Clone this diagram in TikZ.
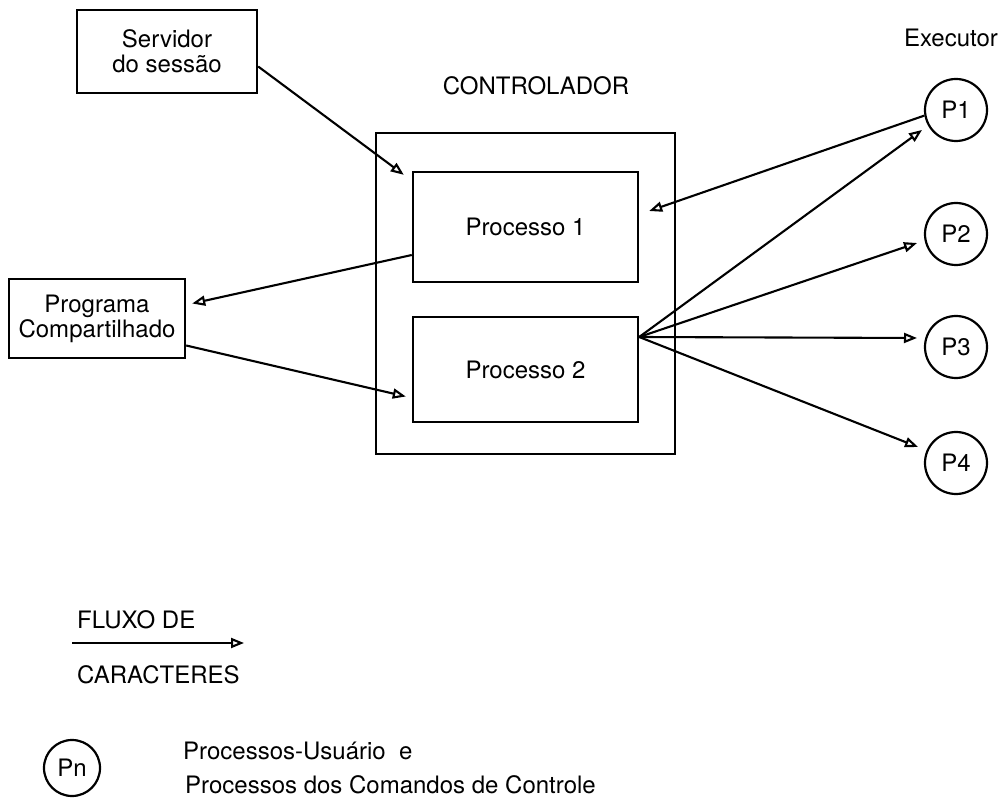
\documentclass[tikz,border=0pt]{standalone}
\usepackage{fontspec}
\setmainfont{TeX Gyre Heros}
\usetikzlibrary{arrows.meta,calc}

\begin{document}
\begin{tikzpicture}[x=1pt,y=-1pt,
  every node/.style={font=\fontsize{24}{25}\selectfont, inner sep=0pt},
  box/.style={draw, line width=2.4pt, rectangle, align=center},
  proc/.style={draw, line width=2.2pt, circle, minimum size=62pt},
  flow/.style={line width=2.1pt, -{Triangle[open, length=13pt, width=10pt]}},
  label/.style={anchor=center}
]
\useasboundingbox (0,0) rectangle (1005,810);

% sources on the left
\node[box, minimum width=180pt, minimum height=83pt] (serv) at (167,51.5)
  {Servidor\\do sessão};
\node[box, minimum width=176pt, minimum height=79pt] (prog) at (97,318.5)
  {Programa\\Compartilhado};

% controller with its two processes
\node[label] (ctrltitle) at (536,86) {CONTROLADOR};
\node[box, minimum width=299pt, minimum height=321pt] (ctrl) at (525.5,293.5) {};
\node[box, minimum width=225pt, minimum height=110pt] (proc1) at (525.5,227) {Processo 1};
\node[box, minimum width=225pt, minimum height=105pt] (proc2) at (525.5,369.5) {Processo 2};

% executor processes
\node[label] (exec) at (951,38) {Executor};
\node[proc] (p1) at (956,110) {P1};
\node[proc] (p2) at (956,234) {P2};
\node[proc] (p3) at (956,347) {P3};
\node[proc] (p4) at (956,463) {P4};

% character flows
\draw[flow] ($(serv.east)+(0,15)$) -- ($(proc1.north west)+(-8,4)$);
\draw[flow] (p1.190) -- ($(proc1.east)+(10,-16)$);
\draw[flow] ($(proc1.west)+(0,28)$) -- ($(prog.east)+(6,-15)$);
\draw[flow] ($(prog.east)+(0,27)$) -- ($(proc2.west)+(-6,27)$);

\coordinate (fan) at ($(proc2.east)+(0,-32.5)$);
\draw[flow] (fan) -- ($(p1)+(-34,20)$);
\draw[flow] (fan) -- ($(p2)+(-39,9)$);
\draw[flow] (fan) -- ($(p3)+(-39,-9)$);
\draw[flow] (fan) -- ($(p4)+(-38,-16)$);

% legend
\node[anchor=west] (lflux) at (77,620) {FLUXO DE};
\coordinate (la) at (72,643);
\coordinate (lb) at (244,643);
\draw[flow] (la) -- (lb);
\node[anchor=west] (lcar) at (77,675) {CARACTERES};

\node[proc, minimum size=56pt] (pn) at (72,768) {Pn};
\node[anchor=west] (ldesc1) at (183,751) {Processos-Usuário\ \ e};
\node[anchor=west] (ldesc2) at (185,785) {Processos dos Comandos de Controle};
\end{tikzpicture}
\end{document}
